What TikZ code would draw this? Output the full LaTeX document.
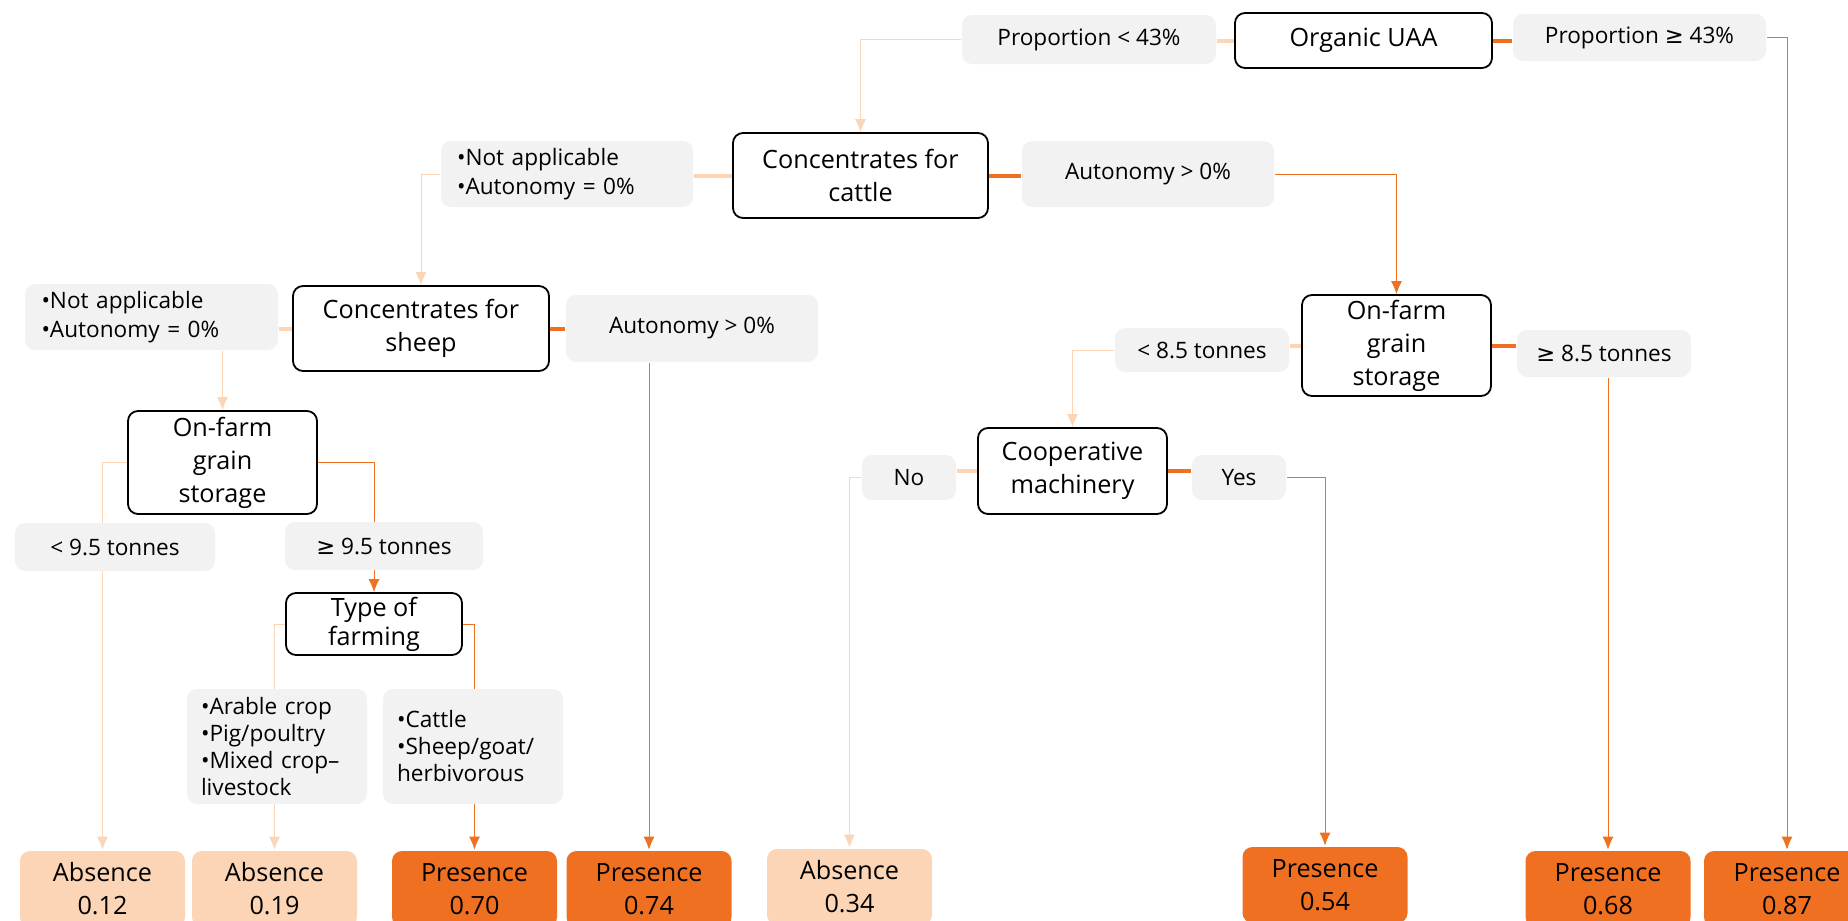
\documentclass[tikz,border=0pt]{standalone}
\usepackage{fontspec}
\setmainfont{Open Sans}
\newfontfamily\symfont{DejaVu Sans}
\usetikzlibrary{arrows.meta,backgrounds}
\definecolor{peach}{HTML}{FBD5B5}
\definecolor{orng}{HTML}{F07021}
\definecolor{lbl}{HTML}{F2F2F2}
\newcommand{\gq}{{\symfont ≥}}

\begin{document}
\begin{tikzpicture}[x=0.5pt,y=-0.5pt,>={Latex[length=6.5pt,width=5.5pt]},line width=1.4pt,
  test/.style={draw=black,line width=0.9pt,fill=white,rounded corners=5pt,align=center,inner sep=0pt,
    font=\fontsize{12.6}{16.5}\selectfont},
  cond/.style={fill=lbl,rounded corners=5pt,align=center,inner sep=0pt,
    font=\fontsize{11.3}{14.5}\selectfont},
  list/.style={cond,align=left,inner xsep=7pt,text width=#1},
  absent/.style={fill=peach,rounded corners=5pt,align=center,inner sep=0pt,
    minimum width=82.5pt,minimum height=38pt,font=\fontsize{12.6}{16.5}\selectfont},
  present/.style={absent,fill=orng},
  lo/.style={draw=peach},
  hi/.style={draw=orng},
  stub/.style={line width=2pt}]
  \useasboundingbox (0,0) rectangle (1848,921);
  \clip (0,0) rectangle (1848,921);

  % tests
  \node[test,minimum width=128.5pt,minimum height=27.5pt] (org) at (1363.5,40.5) {Organic UAA};
  \node[test,minimum width=127.5pt,minimum height=42.5pt] (cattle) at (860.5,175.5) {Concentrates for\\cattle};
  \node[test,minimum width=128pt,minimum height=42.5pt] (sheep) at (421,328.5) {Concentrates for\\sheep};
  \node[test,minimum width=94.5pt,minimum height=51.5pt] (storeL) at (222.5,462.5) {On-farm\\grain\\storage};
  \node[test,minimum width=94.5pt,minimum height=50.5pt] (storeR) at (1396.5,345.5) {On-farm\\grain\\storage};
  \node[test,minimum width=94.5pt,minimum height=43pt] (coop) at (1072.5,471) {Cooperative\\machinery};
  \node[test,minimum width=88pt,minimum height=31pt,font=\fontsize{12.6}{14.5}\selectfont] (farm) at (374,624) {Type of\\farming};

  % conditions
  \node[cond,minimum width=127pt,minimum height=24.5pt] (lt43) at (1089,39.5) {Proportion < 43\%};
  \node[cond,minimum width=126.5pt,minimum height=23.5pt] (ge43) at (1639.5,37.5) {Proportion \gq\ 43\%};
  \node[list=110pt,minimum width=126pt,minimum height=33pt] (naC) at (567,174) {•Not applicable\\•Autonomy = 0\%};
  \node[cond,minimum width=126pt,minimum height=33pt] (autC) at (1148,174) {Autonomy > 0\%};
  \node[list=110pt,minimum width=126.5pt,minimum height=33pt] (naS) at (151.5,317) {•Not applicable\\•Autonomy = 0\%};
  \node[cond,minimum width=126pt,minimum height=33.5pt] (autS) at (692,328.5) {Autonomy > 0\%};
  \node[cond,minimum width=100pt,minimum height=24pt] (lt95) at (115,547) {< 9.5 tonnes};
  \node[cond,minimum width=99pt,minimum height=24pt] (ge95) at (384,546) {\gq\ 9.5 tonnes};
  \node[cond,minimum width=87pt,minimum height=22pt] (lt85) at (1202,350) {< 8.5 tonnes};
  \node[cond,minimum width=87pt,minimum height=23.5pt] (ge85) at (1604,353.5) {\gq\ 8.5 tonnes};
  \node[cond,minimum width=47pt,minimum height=22.5pt] (no) at (909,477.5) {No};
  \node[cond,minimum width=47pt,minimum height=22.5pt] (yes) at (1239,477.5) {Yes};
  \node[list=76pt,minimum width=90pt,minimum height=57.5pt,font=\fontsize{11.3}{13.5}\selectfont] (crop) at (277,746.5) {•Arable crop\\•Pig/poultry\\•Mixed crop–\\livestock};
  \node[list=76pt,minimum width=90pt,minimum height=57.5pt,font=\fontsize{11.3}{13.5}\selectfont] (herb) at (473,746.5) {•Cattle\\•Sheep/goat/\\herbivorous};

  % leaves
  \node[absent] (a12) at (102.5,889) {Absence\\0.12};
  \node[absent] (a19) at (274.5,889) {Absence\\0.19};
  \node[present] (p70) at (474.5,889) {Presence\\0.70};
  \node[present] (p74) at (649,889) {Presence\\0.74};
  \node[absent] (a34) at (849.5,887) {Absence\\0.34};
  \node[present] (p54) at (1325,885) {Presence\\0.54};
  \node[present] (p68) at (1608,889) {Presence\\0.68};
  \node[present,minimum width=83pt] (p87) at (1787,889) {Presence\\0.87};

  \begin{scope}[on background layer]
    \draw[lo,stub] (org.west) -- (org.west -| lt43.east);
    \draw[lo,->] (lt43.west) -| (cattle.north);
    \draw[hi,stub] (org.east) -- (org.east -| ge43.west);
    \draw[hi,->] (ge43.east) -| (p87.north);

    \draw[lo,stub] (cattle.west) -- (cattle.west -| naC.east);
    \draw[lo,->] (naC.west) -| (sheep.north);
    \draw[hi,stub] (cattle.east) -- (cattle.east -| autC.west);
    \draw[hi,->] (autC.east) -| (storeR.north);

    \draw[lo,stub] (sheep.west) -- (sheep.west -| naS.east);
    \draw[lo,->] (storeL.north |- naS.south) -- (storeL.north);
    \draw[hi,stub] (sheep.east) -- (sheep.east -| autS.west);
    \draw[hi,->] (p74.north |- autS.south) -- (p74.north);

    \draw[lo,->] (storeL.west) -| (a12.north);
    \draw[hi,->] (storeL.east) -| (farm.north);
    \draw[lo,->] (farm.west) -| (a19.north);
    \draw[hi,->] (farm.east) -| (p70.north);

    \draw[lo,stub] (storeR.west) -- (storeR.west -| lt85.east);
    \draw[lo,->] (lt85.west) -| (coop.north);
    \draw[hi,stub] (storeR.east) -- (storeR.east -| ge85.west);
    \draw[hi,->] (p68.north |- ge85.south) -- (p68.north);

    \draw[lo,stub] (coop.west) -- (coop.west -| no.east);
    \draw[lo,->] (no.west) -| (a34.north);
    \draw[hi,stub] (coop.east) -- (coop.east -| yes.west);
    \draw[hi,->] (yes.east) -| (p54.north);
  \end{scope}
\end{tikzpicture}
\end{document}
